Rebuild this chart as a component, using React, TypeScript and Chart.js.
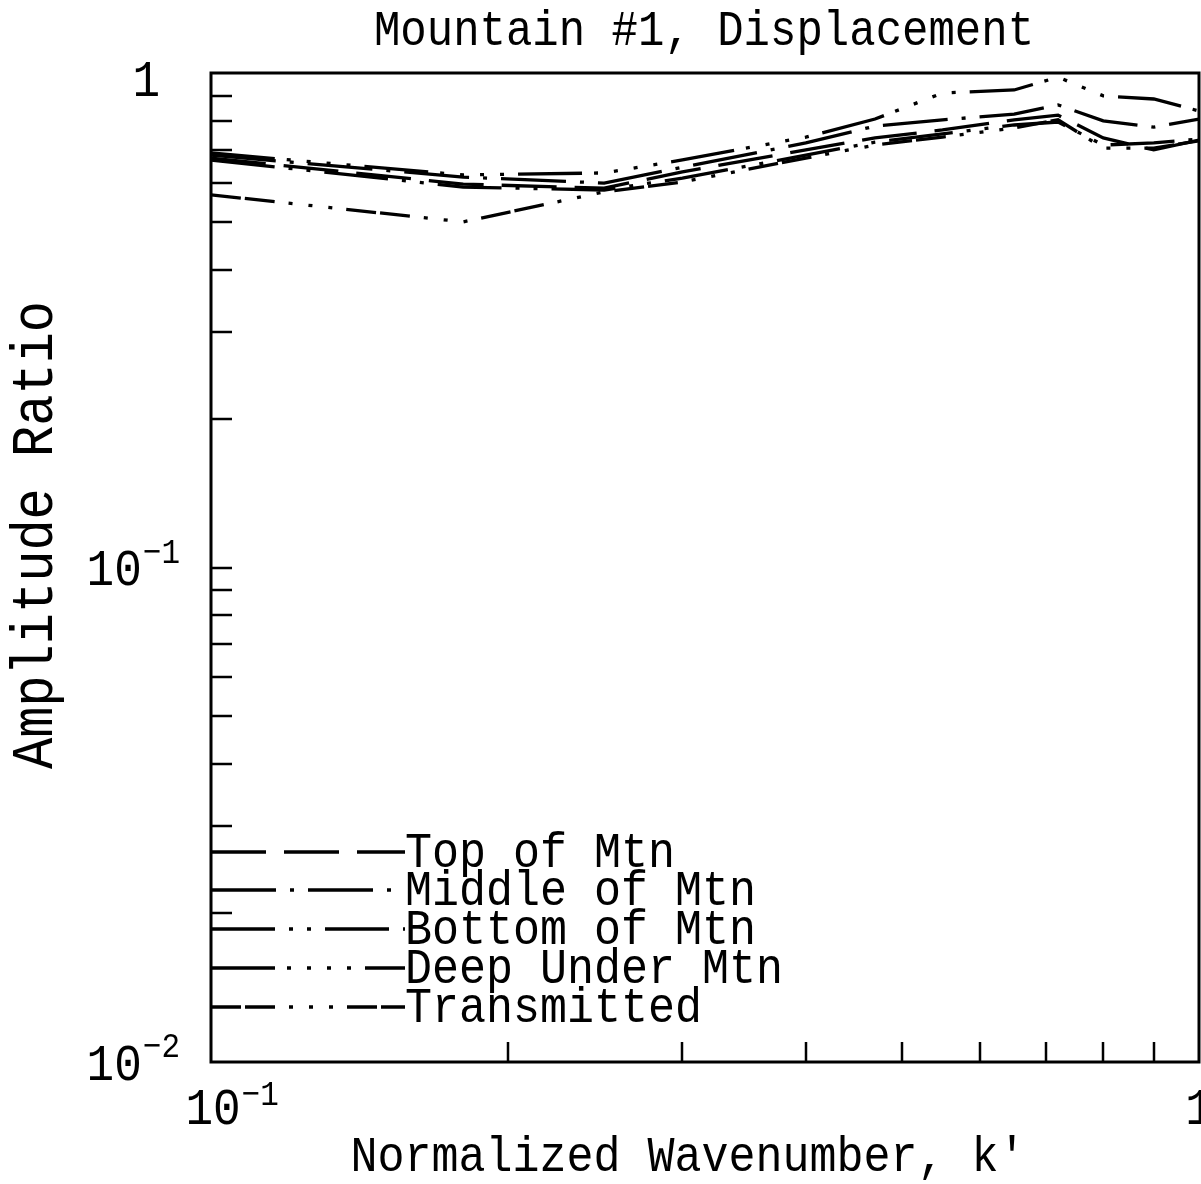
import React, { useEffect, useRef } from 'react';
import { Chart, registerables } from 'chart.js';

Chart.register(...registerables);

// ---- data ----
const kValues = [0.1, 0.18, 0.25, 0.3, 0.4, 0.47, 0.55, 0.65, 0.72, 0.8, 0.9, 1.0];
const topOfMtn = [0.673, 0.596, 0.585, 0.631, 0.699, 0.739, 0.767, 0.804, 0.822, 0.739, 0.699, 0.732];
const middleOfMtn = [0.682, 0.616, 0.599, 0.645, 0.722, 0.781, 0.804, 0.826, 0.862, 0.8, 0.777, 0.807];
const bottomOfMtn = [0.667, 0.588, 0.58, 0.613, 0.682, 0.725, 0.753, 0.785, 0.796, 0.715, 0.722, 0.735];
const deepUnderMtn = [0.689, 0.622, 0.628, 0.667, 0.742, 0.807, 0.911, 0.924, 0.981, 0.899, 0.886, 0.838];
const transmitted = [0.567, 0.5, 0.575, 0.602, 0.673, 0.715, 0.742, 0.774, 0.804, 0.705, 0.705, 0.729];

const seriesNames = ['Top of Mtn', 'Middle of Mtn', 'Bottom of Mtn', 'Deep Under Mtn', 'Transmitted'];
const seriesValues = [topOfMtn, middleOfMtn, bottomOfMtn, deepUnderMtn, transmitted];

const xMinorTicks = [0.2, 0.3, 0.4, 0.5, 0.6, 0.7, 0.8, 0.9];
const yMinorTicks = [0.02, 0.03, 0.04, 0.05, 0.06, 0.07, 0.08, 0.09, 0.1, 0.2, 0.3, 0.4, 0.5, 0.6, 0.7, 0.8, 0.9];
const xTickLabels = [{ v: 0.1, base: '10', exp: '\u22121' }, { v: 1, base: '1', exp: '' }];
const yTickLabels = [{ v: 1, base: '1', exp: '' }, { v: 0.1, base: '10', exp: '\u22121' }, { v: 0.01, base: '10', exp: '\u22122' }];

const TITLE = 'Mountain #1, Displacement';
const X_TITLE = 'Normalized Wavenumber, k\u2032';
const Y_TITLE = 'Amplitude Ratio';

// ---- styles ----
const dashes = [
  [55, 18],
  [65, 14, 4, 14],
  [64, 14, 4, 14, 4, 14],
  [64, 12, 4, 16, 4, 16, 4, 16, 4, 14],
  [30, 4, 30, 14, 4, 16, 4, 16, 4, 14],
];
const FONT = '"Liberation Mono", "DejaVu Sans Mono", monospace';
const LW = 3.3;
const STRETCH = 1.13;

function tallText(ctx: any, text: string, x: number, y: number) {
  ctx.save();
  ctx.translate(x, y);
  ctx.scale(1, STRETCH);
  ctx.fillText(text, 0, 0);
  ctx.restore();
}

const decorPlugin = {
  id: 'decor',
  beforeDraw(chart: any) {
    const { ctx, width, height } = chart;
    ctx.save();
    ctx.fillStyle = '#fff';
    ctx.fillRect(0, 0, width, height);
    ctx.restore();
  },
  afterDraw(chart: any) {
    const { ctx, chartArea } = chart;
    const { left, right, top, bottom } = chartArea;
    const xs = chart.scales.x;
    const ys = chart.scales.y;
    ctx.save();
    ctx.strokeStyle = '#000';
    ctx.fillStyle = '#000';
    ctx.lineWidth = 3;
    ctx.setLineDash([]);
    ctx.strokeRect(left, top, right - left, bottom - top);

    // ticks
    ctx.lineWidth = 2.5;
    ctx.beginPath();
    for (const v of yMinorTicks) {
      const y = Math.round(ys.getPixelForValue(v));
      ctx.moveTo(left, y);
      ctx.lineTo(left + 21, y);
    }
    for (const v of xMinorTicks) {
      const x = Math.round(xs.getPixelForValue(v));
      ctx.moveTo(x, bottom);
      ctx.lineTo(x, bottom - 20);
    }
    ctx.stroke();

    // tick labels
    const baseFont = `46px ${FONT}`;
    const expFont = `31px ${FONT}`;
    ctx.textBaseline = 'middle';
    for (const t of yTickLabels) {
      const y = ys.getPixelForValue(t.v);
      if (t.exp) {
        ctx.font = expFont;
        const we = ctx.measureText(t.exp).width;
        const expLeft = 180 - we;
        ctx.textAlign = 'left';
        tallText(ctx, t.exp, expLeft, y - 14);
        ctx.font = baseFont;
        ctx.textAlign = 'right';
        tallText(ctx, t.base, expLeft - 1, y + 4);
      } else {
        ctx.font = baseFont;
        ctx.textAlign = 'right';
        tallText(ctx, t.base, 160, y + 9);
      }
    }
    for (const t of xTickLabels) {
      const x = xs.getPixelForValue(t.v);
      const yb = bottom + 48;
      ctx.font = baseFont;
      ctx.textAlign = 'center';
      const cx = t.exp ? x + 2 : x;
      tallText(ctx, t.base, cx, yb);
      if (t.exp) {
        const wb = ctx.measureText(t.base).width;
        ctx.font = expFont;
        ctx.textAlign = 'left';
        tallText(ctx, t.exp, cx + wb / 2 + 1, yb - 14);
      }
    }

    // titles
    ctx.font = `44px ${FONT}`;
    ctx.textAlign = 'center';
    tallText(ctx, TITLE, 704, 32);
    ctx.font = `45px ${FONT}`;
    tallText(ctx, X_TITLE, 688, 1158);
    ctx.save();
    ctx.translate(36, 535);
    ctx.rotate(-Math.PI / 2);
    ctx.font = `52px ${FONT}`;
    tallText(ctx, Y_TITLE, 0, 0);
    ctx.restore();

    // legend
    const rowY = [852, 890, 929, 968, 1007];
    ctx.font = `45px ${FONT}`;
    ctx.textAlign = 'left';
    chart.data.datasets.forEach((ds: any, i: number) => {
      const y = rowY[i];
      ctx.lineWidth = LW;
      ctx.lineCap = 'butt';
      ctx.setLineDash(ds.borderDash || []);
      ctx.beginPath();
      ctx.moveTo(left, y);
      ctx.lineTo(405, y);
      ctx.stroke();
      ctx.setLineDash([]);
      tallText(ctx, ds.label, 405, y + 2);
    });
    ctx.restore();
  },
};

export default function App() {
  const ref = useRef<HTMLCanvasElement>(null);
  useEffect(() => {
    const canvas = ref.current;
    if (!canvas) return;
    const chart = new Chart(canvas, {
      type: 'line',
      data: {
        datasets: seriesNames.map((name, i) => ({
          label: name,
          data: kValues.map((k, j) => ({ x: k, y: seriesValues[i][j] })),
          borderColor: '#000',
          borderWidth: LW,
          borderDash: dashes[i],
          borderCapStyle: 'butt',
          pointRadius: 0,
          tension: 0,
          fill: false,
        })),
      },
      options: {
        responsive: false,
        animation: false,
        devicePixelRatio: 1,
        events: [],
        layout: { padding: { left: 211, right: 2, top: 73, bottom: 122 } },
        plugins: { legend: { display: false }, tooltip: { enabled: false }, title: { display: false } },
        scales: {
          x: { type: 'logarithmic', min: 0.1, max: 1, display: false },
          y: { type: 'logarithmic', min: 0.01, max: 1, display: false },
        },
      },
      plugins: [decorPlugin],
    } as any);
    return () => chart.destroy();
  }, []);
  return (
    <div style={{ position: 'absolute', left: 0, top: 0, width: 1201, height: 1184, background: '#fff' }}>
      <canvas ref={ref} width={1201} height={1184} style={{ display: 'block' }} />
    </div>
  );
}
